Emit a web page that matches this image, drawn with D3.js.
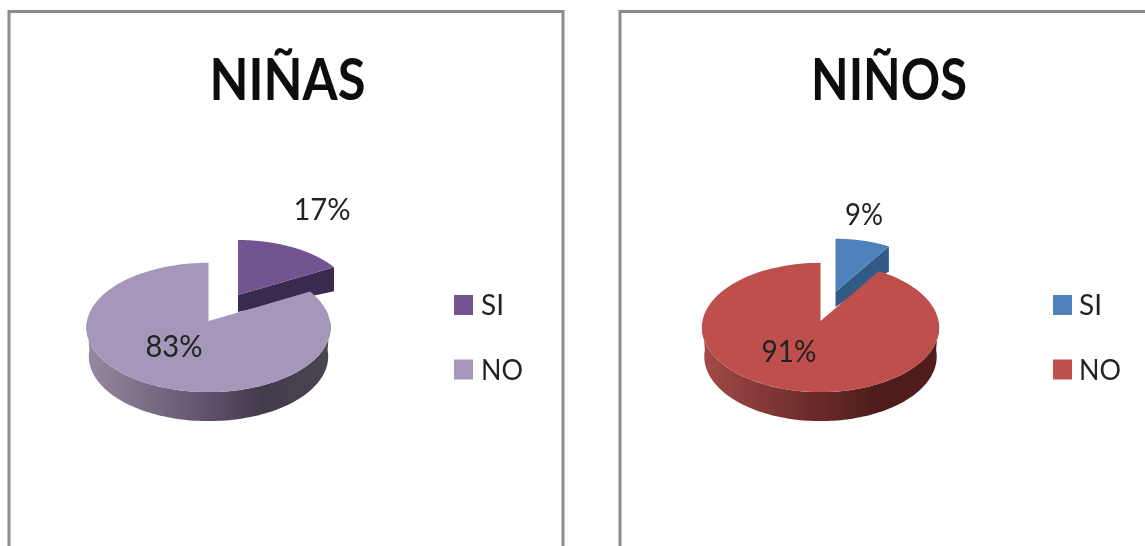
<!DOCTYPE html>
<html><head><meta charset="utf-8">
<script src="https://cdn.jsdelivr.net/npm/d3@7/dist/d3.min.js"></script>
<style>html,body{margin:0;padding:0;background:#fff;overflow:hidden}svg{display:block}text{font-family:Lato,"Open Sans",sans-serif;fill:#222}</style>
</head><body><svg id="c" width="1145" height="546"></svg>
<script>
const categories = ["SI","NO"];
const titles = ["NIÑAS","NIÑOS"];
const girlsValues = [17,83];
const boysValues = [9,91];

const svg = d3.select("#c");
const defs = svg.append("defs");
defs.append("filter").attr("id","soft").append("feGaussianBlur").attr("stdDeviation",0.5);
const root = svg.append("g").attr("filter","url(#soft)");

const pie = d3.pie().sort(null).value(d=>d);
const line = d3.line();
const K = 0.1;

// perspective projection of a disc point at clockwise angle a
function project(p,a,scale,dx,dy,depth){
  const u=Math.sin(a), v=Math.cos(a), s=1/(1+K*v);
  return [p.cx+dx+p.r*scale*u*s, p.cy+dy+depth-p.ry*scale*v*s];
}
const arcAngles=(a0,a1)=>d3.range(0,121).map(i=>d3.scaleLinear().domain([0,120]).range([a0,a1])(i));

const panels=[
 {x:9,right:563,r:121.5,ry:64,cx:208.5,cy:321,depth:29,title:titles[0],titleX:287.5,values:girlsValues,
  top:["#725590","#A497B9"],face:"#3B2A4F",
  side:[["0%","#95899F"],["50%","#5F516B"],["72%","#433A4B"],["100%","#4B4552"]],
  ex:{dx:29.5,dy:-26,scale:.945,depth:17,depth2:24},labels:[[322,220],[174,357]],labelW:[57,57],swatch:454,text:481,gid:"g0"},
 {x:620,right:1200,r:118,ry:64,cx:820.5,cy:321,depth:29,title:titles[1],titleX:889,values:boysValues,
  top:["#4F81BD","#BE504D"],face:"#335A87",
  side:[["0%","#A24A47"],["45%","#6E2C2A"],["75%","#4D1D1B"],["100%","#521F1D"]],
  ex:{dx:15,dy:-29,scale:.915,depth:15,depth2:25},labels:[[864,225],[789,362]],labelW:[38,55],swatch:1053,text:1079,gid:"g1"}
];

panels.forEach(p=>{
  root.append("rect").attr("x",p.x).attr("y",11.5).attr("width",p.right-p.x).attr("height",600)
    .attr("fill","#fff").attr("stroke","#8C8C8C").attr("stroke-width",3);

  root.append("text").attr("x",p.titleX).attr("y",99.5).attr("text-anchor","middle")
    .attr("font-size",57).attr("font-weight",700).attr("textLength",156).attr("lengthAdjust","spacingAndGlyphs")
    .style("fill","#0d0d0d").text(p.title);

  const grad=defs.append("linearGradient").attr("id",p.gid);
  p.side.forEach(s=>grad.append("stop").attr("offset",s[0]).attr("stop-color",s[1]));

  const [si,no]=pie(p.values);
  const e=p.ex;

  // exploded SI: radial cut face, then top
  const apexT=project(p,0,0,e.dx,e.dy,0), apexB=project(p,0,0,e.dx,e.dy,e.depth);
  const rimT=project(p,si.endAngle,e.scale,e.dx,e.dy,0), rimB=project(p,si.endAngle,e.scale,e.dx,e.dy,e.depth2);
  root.append("path").attr("d",line([apexT,rimT,rimB,apexB])+"Z").attr("fill",p.face);
  const siPts=[apexT,...arcAngles(si.startAngle,si.endAngle).map(a=>project(p,a,e.scale,e.dx,e.dy,0))];
  root.append("path").attr("d",line(siPts)+"Z").attr("fill",p.top[0]);

  // NO: rim wall, then top
  const front=arcAngles(Math.PI/2,Math.PI*1.5);
  const wall=[...front.map(a=>project(p,a,1,0,0,0)),
              ...front.slice().reverse().map(a=>{const q=project(p,a,1,0,0,p.depth);q[0]=p.cx+(q[0]-p.cx)*.98;return q;})];
  root.append("path").attr("d",line(wall)+"Z").attr("fill",`url(#${p.gid})`);
  const noPts=[project(p,0,0,0,0,0),...arcAngles(no.startAngle,no.endAngle).map(a=>project(p,a,1,0,0,0))];
  root.append("path").attr("d",line(noPts)+"Z").attr("fill",p.top[1]);

  // value labels
  p.values.forEach((v,i)=>root.append("text").attr("x",p.labels[i][0]).attr("y",p.labels[i][1])
    .attr("text-anchor","middle").attr("font-size",30.5).attr("textLength",p.labelW[i]).attr("lengthAdjust","spacingAndGlyphs").text(v+"%"));

  // legend
  const ly=d3.scalePoint().domain(categories).range([305,369.5]);
  categories.forEach((c,i)=>{
    root.append("rect").attr("x",p.swatch).attr("y",ly(c)-10).attr("width",19).attr("height",20).attr("fill",p.top[i]);
    root.append("text").attr("x",p.text).attr("y",ly(c)+10).attr("font-size",28).attr("textLength",i?42:23).attr("lengthAdjust","spacingAndGlyphs").text(c);
  });
});
</script></body></html>
